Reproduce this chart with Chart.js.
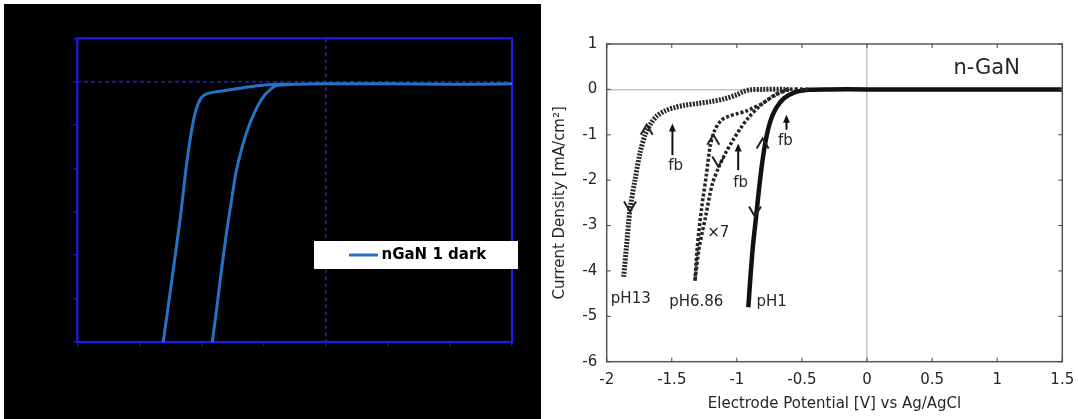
<!DOCTYPE html>
<html>
<head>
<meta charset="utf-8">
<script src="https://cdn.jsdelivr.net/npm/chart.js@4/dist/chart.umd.min.js"></script>
<style>
html, body { margin: 0; padding: 0; background: #fff; width: 1078px; height: 419px; overflow: hidden; }
#lw { position: absolute; left: 4px; top: 4px; width: 537px; height: 415px; background: #000; }
#rw { position: absolute; left: 541px; top: 0; width: 537px; height: 419px; background: #fff; }
canvas { display: block; }
</style>
</head>
<body>
<div id="lw"><canvas id="left"></canvas></div>
<div id="rw"><canvas id="right"></canvas></div>
<script>
// ---------- shared axis ticks ----------
const xTickValues = [-2, -1.5, -1, -0.5, 0, 0.5, 1, 1.5];
const yTickValues = [-6, -5, -4, -3, -2, -1, 0, 1];

// ---------- left panel: nGaN 1 dark ----------
const darkLabel = 'nGaN 1 dark';
const darkX = [-0.913, -0.879, -0.839, -0.799, -0.758, -0.718, -0.664, -0.610, -0.556, -0.503, -0.449, -0.397, -0.25, 0, 0.5, 1.0, 1.5,
               1.0, 0.5, 0, -0.25, -0.40, -0.529, -0.69, -0.744, -0.878, -0.958, -0.999, -1.026, -1.052, -1.079, -1.119, -1.173, -1.246, -1.308];
const darkY = [-6, -5.26, -4.34, -3.49, -2.73, -2.03, -1.42, -0.96, -0.61, -0.35, -0.19, -0.09, -0.06, -0.05, -0.05, -0.06, -0.05,
               -0.06, -0.05, -0.05, -0.06, -0.06, -0.09, -0.15, -0.175, -0.23, -0.28, -0.36, -0.50, -0.73, -1.11, -1.88, -3.19, -4.72, -6];

// ---------- right panel: n-GaN in three electrolytes ----------
const seriesNames = ['pH13', 'pH6.86', 'pH1'];
const pH13X = [-1.87, -1.846, -1.821, -1.783, -1.744, -1.705, -1.66, -1.612, -1.55, -1.48, -1.40, -1.30, -1.20, -1.10, -1.00, -0.95, -0.90, -0.80, -0.60];
const pH13Y = [-4.13, -3.40, -2.65, -2.00, -1.40, -1.00, -0.75, -0.58, -0.47, -0.40, -0.35, -0.31, -0.27, -0.21, -0.12, -0.05, -0.01, 0, 0];
const pH686UpX = [-1.322, -1.305, -1.27, -1.235, -1.205, -1.17, -1.12, -1.06, -0.99, -0.93, -0.87, -0.81, -0.70, -0.60, -0.45];
const pH686UpY = [-4.22, -3.50, -2.60, -1.90, -1.25, -0.90, -0.68, -0.59, -0.53, -0.48, -0.40, -0.32, -0.11, 0, 0];
const pH686DownX = [-0.60, -0.70, -0.81, -0.91, -0.97, -1.03, -1.09, -1.14, -1.19, -1.24, -1.29, -1.322];
const pH686DownY = [0, -0.12, -0.33, -0.62, -0.85, -1.12, -1.42, -1.72, -2.10, -2.80, -3.50, -4.22];
const pH1X = [-0.912, -0.895, -0.875, -0.852, -0.83, -0.806, -0.78, -0.745, -0.70, -0.64, -0.56, -0.45, -0.30, 0, 1.5];
const pH1Y = [-4.80, -4.10, -3.40, -2.80, -2.20, -1.63, -1.15, -0.72, -0.42, -0.20, -0.07, -0.01, 0, 0, 0];

// text notes (data coordinates)
const noteText = ['pH13', 'pH6.86', 'pH1', '×7', 'fb', 'fb', 'fb', 'n-GaN'];
const noteX = [-1.815, -1.312, -0.733, -1.143, -1.47, -0.971, -0.628, 0.919];
const noteY = [-4.62, -4.68, -4.68, -3.16, -1.70, -2.06, -1.15, 0.46];
// flat-band arrows (data coordinates)
const fbX = [-1.495, -0.99, -0.619];
const fbHeadY = [-0.75, -1.19, -0.56];
const fbTailY = [-1.45, -1.78, -0.89];
// scan-direction chevrons (1 = up, -1 = down)
const chevX = [-1.693, -1.821, -1.181, -1.143, -0.802, -0.861];
const chevY = [-0.89, -2.58, -1.11, -1.59, -1.19, -2.69];
const chevDir = [1, -1, 1, -1, 1, -1];

const pts = (xs, ys) => xs.map((x, i) => ({ x: x, y: ys[i] }));
const FONT = '"DejaVu Sans", "Liberation Sans", sans-serif';
const TXT = '#262626';
const BLUE = '#1c1cf0';

// ---------- plugins ----------
const frameLeft = {
  id: 'frameLeft',
  beforeDatasetsDraw(chart) {
    const { ctx, chartArea: a } = chart;
    ctx.save();
    ctx.strokeStyle = BLUE; ctx.lineWidth = 2.2;
    ctx.strokeRect(a.left, a.top, a.right - a.left, a.bottom - a.top);
    ctx.restore();
  }
};
const legendLeft = {
  id: 'legendLeft',
  afterDraw(chart) {
    const ds = chart.data.datasets[0];
    const ctx = chart.ctx;
    ctx.save();
    ctx.fillStyle = '#fff';
    ctx.fillRect(310, 237, 204, 28);
    ctx.strokeStyle = ds.borderColor; ctx.lineWidth = 3;
    ctx.beginPath(); ctx.moveTo(345, 251); ctx.lineTo(374, 251); ctx.stroke();
    ctx.fillStyle = '#000';
    ctx.font = 'bold 15px ' + FONT;
    ctx.textBaseline = 'middle'; ctx.textAlign = 'left';
    ctx.fillText(ds.label, 377.5, 251.5);
    ctx.restore();
  }
};
const frameRight = {
  id: 'frameRight',
  afterDatasetsDraw(chart) {
    const { ctx, chartArea: a, scales } = chart;
    ctx.save();
    ctx.strokeStyle = '#555'; ctx.lineWidth = 1.5;
    ctx.strokeRect(a.left, a.top, a.right - a.left, a.bottom - a.top);
    ctx.lineWidth = 1; ctx.strokeStyle = '#444';
    ctx.beginPath();
    xTickValues.forEach(v => {
      const p = scales.x.getPixelForValue(v);
      ctx.moveTo(p, a.bottom); ctx.lineTo(p, a.bottom - 4);
      ctx.moveTo(p, a.top); ctx.lineTo(p, a.top + 4);
    });
    yTickValues.forEach(v => {
      const p = scales.y.getPixelForValue(v);
      ctx.moveTo(a.left, p); ctx.lineTo(a.left + 4, p);
      ctx.moveTo(a.right, p); ctx.lineTo(a.right - 4, p);
    });
    ctx.stroke();
    ctx.restore();
  }
};
const notesRight = {
  id: 'notesRight',
  afterDraw(chart) {
    const { ctx, scales } = chart;
    const sx = scales.x, sy = scales.y;
    ctx.save();
    // fb arrows
    ctx.strokeStyle = '#111'; ctx.fillStyle = '#111'; ctx.lineWidth = 2;
    fbX.forEach((x, i) => {
      const X = sx.getPixelForValue(x);
      const yh = sy.getPixelForValue(fbHeadY[i]);
      const yt = sy.getPixelForValue(fbTailY[i]);
      ctx.beginPath(); ctx.moveTo(X, yt); ctx.lineTo(X, yh + 6); ctx.stroke();
      ctx.beginPath(); ctx.moveTo(X, yh); ctx.lineTo(X - 3.5, yh + 8); ctx.lineTo(X + 3.5, yh + 8); ctx.closePath(); ctx.fill();
    });
    // chevrons
    ctx.lineWidth = 2; ctx.strokeStyle = '#222';
    chevX.forEach((x, i) => {
      const cx = sx.getPixelForValue(x), cy = sy.getPixelForValue(chevY[i]);
      const d = chevDir[i];
      ctx.beginPath();
      ctx.moveTo(cx - 6, cy + 5 * d); ctx.lineTo(cx, cy - 5 * d); ctx.lineTo(cx + 6, cy + 5 * d);
      ctx.stroke();
    });
    // text notes
    ctx.fillStyle = TXT; ctx.textAlign = 'center'; ctx.textBaseline = 'middle';
    noteText.forEach((t, i) => {
      ctx.font = (t === 'n-GaN' ? '21px ' : '15px ') + FONT;
      ctx.fillText(t, sx.getPixelForValue(noteX[i]), sy.getPixelForValue(noteY[i]));
    });
    ctx.restore();
  }
};

const setTicks = vals => s => { s.ticks = vals.map(v => ({ value: v })); };
const fitX = h => s => { s.height = h; s.paddingLeft = 0; s.paddingRight = 0; s.paddingTop = 0; s.paddingBottom = 0; };
const fitY = w => s => { s.width = w; s.paddingLeft = 0; s.paddingRight = 0; s.paddingTop = 0; s.paddingBottom = 0; };

// ---------- left chart ----------
new Chart(document.getElementById('left'), {
  type: 'line',
  data: {
    datasets: [{
      label: darkLabel, data: pts(darkX, darkY),
      borderColor: '#2474c6', borderWidth: 3, pointRadius: 0, tension: 0.3, fill: false
    }]
  },
  options: {
    responsive: true, maintainAspectRatio: false, animation: false, devicePixelRatio: 1,
    layout: { padding: { left: 0, right: 29, top: 34.3, bottom: 0 } },
    plugins: { legend: { display: false }, tooltip: { enabled: false } },
    scales: {
      x: {
        type: 'linear', min: -2, max: 1.5, afterBuildTicks: setTicks(xTickValues),
        ticks: { display: false },
        grid: { color: c => (c.tick && c.tick.value === 0) ? BLUE : 'rgba(0,0,0,0)', lineWidth: 1.5,
                drawTicks: true, tickLength: 4, tickColor: '#1616b8', tickWidth: 1.5 },
        border: { display: false, dash: [4, 3] },
        afterFit: fitX(77)
      },
      y: {
        type: 'linear', min: -6, max: 1, afterBuildTicks: setTicks(yTickValues),
        ticks: { display: false },
        grid: { color: c => (c.tick && c.tick.value === 0) ? BLUE : 'rgba(0,0,0,0)', lineWidth: 1.5,
                drawTicks: true, tickLength: 4, tickColor: '#1616b8', tickWidth: 1.5 },
        border: { display: false, dash: [4, 3] },
        afterFit: fitY(73.3)
      }
    }
  },
  plugins: [frameLeft, legendLeft]
});

// ---------- right chart ----------
new Chart(document.getElementById('right'), {
  type: 'line',
  data: {
    datasets: [
      { label: seriesNames[0], data: pts(pH13X, pH13Y), borderColor: '#2a2a2a', borderWidth: 5, borderDash: [2, 1.3], pointRadius: 0, tension: 0.3, fill: false },
      { label: seriesNames[1], data: pts(pH686UpX, pH686UpY), borderColor: '#262626', borderWidth: 3.5, borderDash: [3, 2], pointRadius: 0, tension: 0.3, fill: false },
      { label: seriesNames[1], data: pts(pH686DownX, pH686DownY), borderColor: '#262626', borderWidth: 3.5, borderDash: [3, 2], pointRadius: 0, tension: 0.3, fill: false },
      { label: seriesNames[2], data: pts(pH1X, pH1Y), borderColor: '#111', borderWidth: 4.5, pointRadius: 0, tension: 0.3, fill: false }
    ]
  },
  options: {
    responsive: true, maintainAspectRatio: false, animation: false, devicePixelRatio: 1,
    layout: { padding: { left: 0, right: 15.7, top: 44, bottom: 0 } },
    plugins: { legend: { display: false }, tooltip: { enabled: false } },
    scales: {
      x: {
        type: 'linear', min: -2, max: 1.5, afterBuildTicks: setTicks(xTickValues),
        ticks: { autoSkip: false, maxRotation: 0, padding: 9, color: TXT, font: { family: FONT, size: 15 }, callback: v => String(v) },
        grid: { drawTicks: false, color: c => (c.tick && c.tick.value === 0) ? '#c4c4c4' : 'rgba(0,0,0,0)', lineWidth: 1.5 },
        border: { display: false },
        title: { display: true, text: 'Electrode Potential [V] vs Ag/AgCl', color: TXT, font: { family: FONT, size: 15 }, padding: { top: 0, bottom: 6 } },
        afterFit: fitX(57.3)
      },
      y: {
        type: 'linear', min: -6, max: 1, afterBuildTicks: setTicks(yTickValues),
        ticks: { autoSkip: false, padding: 9.5, color: TXT, font: { family: FONT, size: 15 }, callback: v => String(v) },
        grid: { drawTicks: false, color: c => (c.tick && c.tick.value === 0) ? '#c4c4c4' : 'rgba(0,0,0,0)', lineWidth: 1.5 },
        border: { display: false },
        title: { display: true, text: 'Current Density [mA/cm²]', color: TXT, font: { family: FONT, size: 15 }, padding: { top: 10, bottom: 0 } },
        afterFit: fitY(65.7)
      }
    }
  },
  plugins: [frameRight, notesRight]
});
</script>
</body>
</html>
